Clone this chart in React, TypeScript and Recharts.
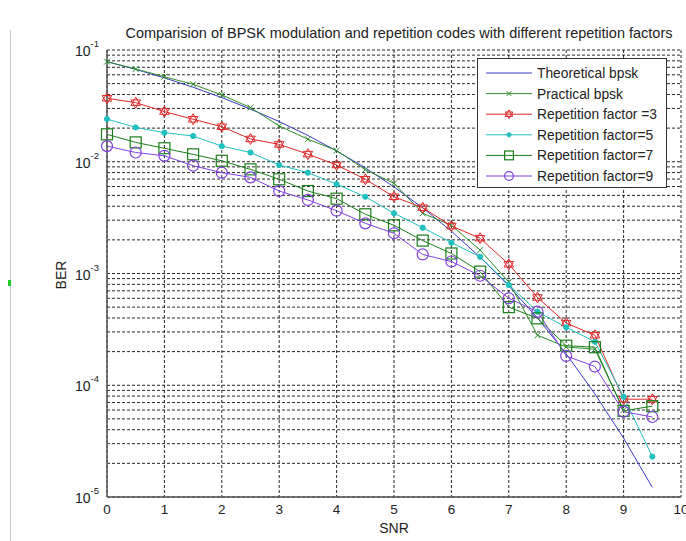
import React from 'react';
import { LineChart, Line, XAxis, YAxis, CartesianGrid } from 'recharts';

const snr = [0, 0.5, 1, 1.5, 2, 2.5, 3, 3.5, 4, 4.5, 5, 5.5, 6, 6.5, 7, 7.5, 8, 8.5, 9, 9.5];
const theoretical = [0.0786, 0.0671, 0.0563, 0.0464, 0.0375, 0.0296, 0.0229, 0.0172, 0.0125, 0.00882, 0.00595, 0.00386, 0.00239, 0.0014, 0.000773, 0.0004, 0.000191, 0.0000837, 0.0000336, 0.0000122];
const practical = [0.0786, 0.0676, 0.0577, 0.0493, 0.0396, 0.0305, 0.0209, 0.0159, 0.0126, 0.0085, 0.00641, 0.00346, 0.0027, 0.00162, 0.00084, 0.00028, 0.00022, 0.00021, 0.00006, null];
const rep3 = [0.037, 0.0338, 0.0281, 0.024, 0.0206, 0.016, 0.0143, 0.0117, 0.00935, 0.00697, 0.00486, 0.00388, 0.00266, 0.00207, 0.00121, 0.00061, 0.00036, 0.00028, 0.000075, 0.000075];
const rep5 = [0.0241, 0.0203, 0.0182, 0.017, 0.0138, 0.0121, 0.00935, 0.00798, 0.0063, 0.00486, 0.00346, 0.00257, 0.00189, 0.00141, 0.00079, 0.000455, 0.00033, 0.000245, 0.000079, 0.000023];
const rep7 = [0.0176, 0.0149, 0.0132, 0.01165, 0.0102, 0.00855, 0.00697, 0.00547, 0.00467, 0.00339, 0.0027, 0.00197, 0.00151, 0.00104, 0.0005, 0.000397, 0.000226, 0.000219, 0.000059, 0.000065];
const rep9 = [0.0138, 0.0121, 0.0113, 0.00922, 0.00798, 0.00725, 0.00547, 0.00455, 0.00365, 0.00281, 0.00229, 0.00148, 0.00128, 0.000955, 0.0006, 0.000455, 0.000183, 0.000147, 0.000058, 0.000052];

const xTicks = [0, 1, 2, 3, 4, 5, 6, 7, 8, 9, 10];
const decades = [1e-5, 1e-4, 1e-3, 1e-2];
const mantissas = [1, 2, 3, 4, 5, 6, 7, 8, 9];
const yTicks: number[] = [];
decades.forEach((d) => mantissas.forEach((m) => yTicks.push(parseFloat((d * m).toPrecision(3)))));
yTicks.push(1e-1);

const title = 'Comparision of BPSK modulation and repetition codes with different repetition factors';
const FONT = '"Liberation Sans", Arial, Helvetica, sans-serif';

const data = snr.map((s, i) => ({
  snr: s,
  theo: theoretical[i],
  prac: practical[i],
  r3: rep3[i],
  r5: rep5[i],
  r7: rep7[i],
  r9: rep9[i],
}));

type Marker = 'none' | 'x' | 'hex' | 'dot' | 'square' | 'circle';
const series: { key: string; name: string; color: string; marker: Marker }[] = [
  { key: 'theo', name: 'Theoretical bpsk', color: '#3a3ac8', marker: 'none' },
  { key: 'prac', name: 'Practical bpsk', color: '#2f8f2f', marker: 'x' },
  { key: 'r3', name: 'Repetition factor =3', color: '#e02828', marker: 'hex' },
  { key: 'r5', name: 'Repetition factor=5', color: '#20c0c0', marker: 'dot' },
  { key: 'r7', name: 'Repetition factor=7', color: '#1a7f1a', marker: 'square' },
  { key: 'r9', name: 'Repetition factor=9', color: '#8040e0', marker: 'circle' },
];

function drawMarker(kind: Marker, cx: number, cy: number, color: string, s: number, key?: any) {
  if (kind === 'x') {
    const h = 3 * s;
    return (
      <g key={key}>
        <line x1={cx - h} y1={cy - h} x2={cx + h} y2={cy + h} stroke={color} strokeWidth={1} />
        <line x1={cx - h} y1={cy + h} x2={cx + h} y2={cy - h} stroke={color} strokeWidth={1} />
      </g>
    );
  }
  if (kind === 'hex') {
    const r = 5.5 * s;
    const tri = (rot: number) =>
      [0, 1, 2]
        .map((k) => {
          const a = rot + (k * 2 * Math.PI) / 3;
          return `${cx + r * Math.sin(a)},${cy - r * Math.cos(a)}`;
        })
        .join(' ');
    return (
      <g key={key}>
        <polygon points={tri(0)} fill="none" stroke={color} strokeWidth={1} />
        <polygon points={tri(Math.PI)} fill="none" stroke={color} strokeWidth={1} />
      </g>
    );
  }
  if (kind === 'dot') {
    return <circle key={key} cx={cx} cy={cy} r={2.6 * s} fill={color} stroke={color} />;
  }
  if (kind === 'square') {
    const h = 5.5 * s;
    return <rect key={key} x={cx - h} y={cy - h} width={2 * h} height={2 * h} fill="none" stroke={color} strokeWidth={1.2} />;
  }
  if (kind === 'circle') {
    return <circle key={key} cx={cx} cy={cy} r={5.5 * s} fill="none" stroke={color} strokeWidth={1.2} />;
  }
  return <g key={key} />;
}

const makeDot = (kind: Marker, color: string) => (props: any) => {
  const { cx, cy, index, value } = props;
  if (cx == null || cy == null || value == null || Number.isNaN(cx) || Number.isNaN(cy)) {
    return <g key={`d-${index}`} />;
  }
  return drawMarker(kind, cx, cy, color, 1, `d-${index}`);
};

const YTick = (props: any) => {
  const { x, y, payload } = props;
  const v = payload.value as number;
  const e = Math.round(Math.log10(v));
  if (Math.abs(v - Math.pow(10, e)) / v > 1e-6) return <g />;
  return (
    <text x={x} y={y + 6} textAnchor="end" fontFamily={FONT} fontSize={14} fill="#222">
      10
      <tspan dy={-9} fontSize={9.5}>
        {String(e)}
      </tspan>
    </text>
  );
};

const XTick = (props: any) => {
  const { x, y, payload } = props;
  return (
    <text x={x} y={y + 9} textAnchor="middle" fontFamily={FONT} fontSize={13.5} fill="#222">
      {payload.value}
    </text>
  );
};

const LegendBox = () => (
  <div
    style={{
      position: 'absolute',
      left: 477,
      top: 58,
      width: 190,
      height: 130,
      border: '1px solid #333',
      background: '#fff',
      boxSizing: 'border-box',
    }}
  >
    <svg width={188} height={128} style={{ display: 'block' }}>
      {series.map((s, i) => {
        const cy = 14 + i * 20.6;
        return (
          <g key={s.key}>
            <line x1={8} x2={54} y1={cy} y2={cy} stroke={s.color} strokeWidth={1} />
            {drawMarker(s.marker, 31, cy, s.color, 0.8)}
            <text x={59} y={cy + 5} fontFamily={FONT} fontSize={13.8} fill="#222">
              {s.name}
            </text>
          </g>
        );
      })}
    </svg>
  </div>
);

export default function App() {
  return (
    <div style={{ position: 'absolute', left: 0, top: 0, width: 686, height: 541, background: '#fff' }}>
      <LineChart
        width={686}
        height={541}
        data={data}
        margin={{ top: 50, right: 5, bottom: 14, left: 0 }}
      >
        <CartesianGrid stroke="#111" strokeDasharray="3 2" strokeWidth={0.9} />
        <XAxis
          dataKey="snr"
          type="number"
          domain={[0, 10]}
          ticks={xTicks}
          interval={0}
          height={30}
          tickLine={false}
          axisLine={{ stroke: '#555', strokeWidth: 1.5 }}
          tick={<XTick />}
        />
        <XAxis
          xAxisId="top"
          orientation="top"
          type="number"
          domain={[0, 10]}
          height={0}
          tick={false}
          tickLine={false}
          axisLine={{ stroke: '#555', strokeWidth: 1.5 }}
        />
        <YAxis
          type="number"
          scale="log"
          domain={[1e-5, 1e-1]}
          allowDataOverflow
          ticks={yTicks}
          interval={0}
          width={107}
          tickLine={false}
          axisLine={{ stroke: '#555', strokeWidth: 1.5 }}
          tick={<YTick />}
        />
        <YAxis
          yAxisId="right"
          orientation="right"
          type="number"
          domain={[0, 1]}
          width={0}
          tick={false}
          tickLine={false}
          axisLine={{ stroke: '#555', strokeWidth: 1.5 }}
        />
        {series.map((s) => (
          <Line
            key={s.key}
            dataKey={s.key}
            name={s.name}
            stroke={s.color}
            strokeWidth={1}
            type="linear"
            isAnimationActive={false}
            connectNulls={false}
            dot={s.marker === 'none' ? false : makeDot(s.marker, s.color)}
            activeDot={false}
          />
        ))}
      </LineChart>
      <LegendBox />
      <svg
        width={686}
        height={541}
        style={{ position: 'absolute', left: 0, top: 0, pointerEvents: 'none' }}
      >
        <line x1={10.5} x2={10.5} y1={30} y2={541} stroke="#c8c8c8" strokeWidth={1} />
        <rect x={8} y={280} width={3} height={6} fill="#22cc22" />
        <text x={399} y={38} textAnchor="middle" fontFamily={FONT} fontSize={14.5} fill="#222">
          {title}
        </text>
        <text x={394} y={533} textAnchor="middle" fontFamily={FONT} fontSize={14} fill="#222">
          SNR
        </text>
        <text
          transform="translate(66,275) rotate(-90)"
          textAnchor="middle"
          fontFamily={FONT}
          fontSize={14}
          fill="#222"
        >
          BER
        </text>
      </svg>
    </div>
  );
}
